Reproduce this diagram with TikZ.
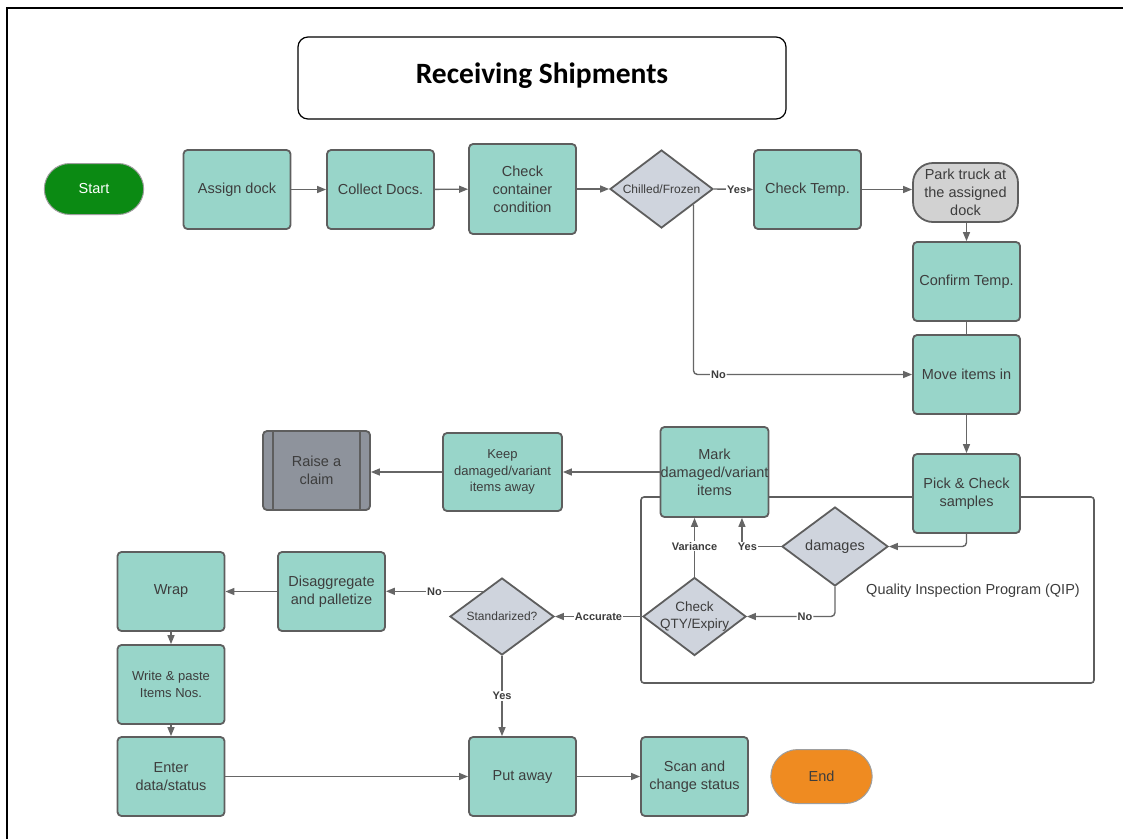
\documentclass[tikz,border=0pt]{standalone}
\usepackage{fontspec}
\setmainfont{Liberation Sans}
\newfontfamily\headfont{Carlito}
\usetikzlibrary{shapes.geometric,shapes.misc,arrows.meta,calc}

\definecolor{procfill}{HTML}{98D5C9}
\definecolor{edgegray}{HTML}{5E5E5E}
\definecolor{decfill}{HTML}{CFD4DD}
\definecolor{parkfill}{HTML}{D2D2D2}
\definecolor{claimfill}{HTML}{8E939C}
\definecolor{startgreen}{HTML}{0B8A13}
\definecolor{endorange}{HTML}{EF8B21}
\definecolor{wiregray}{HTML}{666666}
\definecolor{inktext}{HTML}{3D3D3D}

\tikzset{
  box/.style={draw=edgegray, line width=1.8pt, rounded corners=4pt, inner sep=0pt,
    align=center, text=inktext, font=\fontsize{14.5}{18}\selectfont},
  proc/.style={box, fill=procfill, minimum width=107pt, minimum height=79pt},
  decision/.style={diamond, draw=edgegray, line width=1.8pt, fill=decfill, inner sep=-30pt,
    align=center, text=inktext, minimum width=103pt, minimum height=78pt,
    font=\fontsize{12}{15}\selectfont},
  terminal/.style={rounded rectangle, draw=edgegray!60, line width=1pt, minimum height=52pt,
    font=\fontsize{14.5}{18}\selectfont},
  wire/.style={draw=wiregray, line width=1.4pt, -{Triangle[length=9pt,width=7pt]}},
  plainwire/.style={draw=wiregray, line width=1.4pt},
  tag/.style={fill=white, inner sep=1pt, text=inktext, font=\bfseries\fontsize{11}{13}\selectfont},
}

\begin{document}
\begin{tikzpicture}[x=1pt,y=-1pt]
  \useasboundingbox (0,0) rectangle (1123,839);
  \fill[white] (0,0) rectangle (1123,839);

  % page frame
  \draw[line width=1.6pt] (7,839) -- (7,8) -- (1123,8);

  % heading
  \node[draw, line width=1.2pt, rounded corners=10pt, minimum width=488pt, minimum height=82pt,
        font=\headfont\bfseries\fontsize{29.5}{32}\selectfont] (title) at (542,78)
        {\raisebox{10pt}{Receiving Shipments}};

  % QIP frame
  \node[draw=edgegray, line width=1.6pt, rounded corners=3pt, minimum width=453pt,
        minimum height=186pt] (qip) at (867.5,590) {};
  \node[text=inktext, font=\fontsize{14.5}{18}\selectfont] (qiplabel) at (973,591)
        {Quality Inspection Program (QIP)};

  % first row
  \node[terminal, fill=startgreen, text=white, minimum width=106pt, minimum height=51pt] (start) at (94,189) {Start};
  \node[proc] (assign) at (237,189.5) {Assign dock};
  \node[proc] (collect) at (380.5,189.5) {Collect Docs.};
  \node[proc, minimum height=90pt] (container) at (522.5,189) {Check\\container\\condition};
  \node[decision] (chilled) at (661.5,189) {Chilled/Frozen};
  \node[proc] (checktemp) at (807.5,189.5) {Check Temp.};
  \node[box, fill=parkfill, rounded corners=20pt, minimum width=105pt, minimum height=59pt] (park) at (965.5,192.5)
        {Park truck at\\the assigned\\dock};

  % right column
  \node[proc] (confirm) at (966.5,281.5) {Confirm Temp.};
  \node[proc] (movein) at (966.5,374.5) {Move items in};
  \node[proc] (pick) at (966.5,493.5) {Pick \& Check\\samples};

  % inspection
  \node[decision, minimum width=106pt, minimum height=79pt, font=\fontsize{14.5}{18}\selectfont] (damages) at (835,546.5) {damages};
  \node[decision, font=\fontsize{13.5}{17}\selectfont] (qty) at (694.5,616.5) {Check\\QTY/Expiry};
  \node[proc, minimum height=90pt] (mark) at (714.5,472) {Mark\\damaged/variant\\items};
  \node[proc, minimum width=119pt, minimum height=78pt, font=\fontsize{13}{16.5}\selectfont] (keep) at (502.5,472)
        {Keep\\damaged/variant\\items away};
  \node[box, fill=claimfill, minimum width=107pt, minimum height=79pt] (claim) at (316.5,470.5) {Raise a\\claim};
  \draw[edgegray, line width=1.8pt] ($(claim.north west)+(11,0)$) -- ($(claim.south west)+(11,0)$)
                                    ($(claim.north east)+(-11,0)$) -- ($(claim.south east)+(-11,0)$);

  % lower part
  \node[decision, minimum width=104pt, minimum height=77pt] (std) at (502,616.5) {Standarized?};
  \node[proc] (disagg) at (331.5,591.5) {Disaggregate\\and palletize};
  \node[proc] (wrap) at (171,591.5) {Wrap};
  \node[proc, font=\fontsize{13}{17}\selectfont] (write) at (171,684.5) {Write \& paste\\Items Nos.};
  \node[proc] (enter) at (171,776.5) {Enter\\data/status};
  \node[proc] (putaway) at (522.5,776.5) {Put away};
  \node[proc] (scan) at (694.5,776.5) {Scan and\\change status};
  \node[terminal, fill=endorange, text=inktext, minimum width=108pt, minimum height=54pt] (end) at (821.5,776.5) {End};

  % connectors, top row
  \draw[wire] (assign) -- (collect);
  \draw[wire] (collect) -- (container);
  \draw[wire] (container) -- (chilled);
  \draw[wire] (chilled.east) -- node[tag, pos=0.58] {Yes} (checktemp.west);
  \draw[wire] (checktemp.east) -- (checktemp.east -| park.west);
  \draw[wire] (park.south -| confirm.north) -- (confirm.north);
  \draw[plainwire] (confirm.south) -- (movein.north);
  \coordinate (chilledno) at ($(chilled.east)!0.39!(chilled.south)$);
  \draw[wire, rounded corners=4pt] (chilledno) |- node[tag, pos=0.557] {No} (movein.west);
  \draw[wire] (movein.south) -- (pick.north);

  % connectors, inspection
  \draw[wire, rounded corners=4pt] (pick.south) |- (damages.east);
  \coordinate (markright) at ($(mark.south)!0.5!(mark.south east)$);
  \draw[wire] (damages.west) -| node[tag, pos=0.43] {Yes} (markright);
  \draw[wire, rounded corners=4pt] (damages.south) |- node[tag, pos=0.67] {No} (qty.east);
  \draw[wire] (qty.north) -- node[tag, pos=0.52] {Variance} (qty.north |- mark.south);
  \draw[wire] (qty.west) -- node[tag] {Accurate} (std.east);
  \draw[wire] (mark.west |- keep.east) -- (keep.east);
  \draw[wire] (keep.west) -- (keep.west -| claim.east);

  % connectors, lower part
  \coordinate (stdno) at ($(std.west)!0.64!(std.north)$);
  \draw[wire] (stdno) -- node[tag] {No} (stdno -| disagg.east);
  \draw[wire] (std.south) -- node[tag] {Yes} (std.south |- putaway.north);
  \draw[wire] (disagg.west) -- (wrap.east);
  \draw[wire] (wrap.south) -- (write.north);
  \draw[wire] (write.south) -- (enter.north);
  \draw[wire] (enter.east) -- (putaway.west);
  \draw[wire] (putaway.east) -- (scan.west);
\end{tikzpicture}
\end{document}
